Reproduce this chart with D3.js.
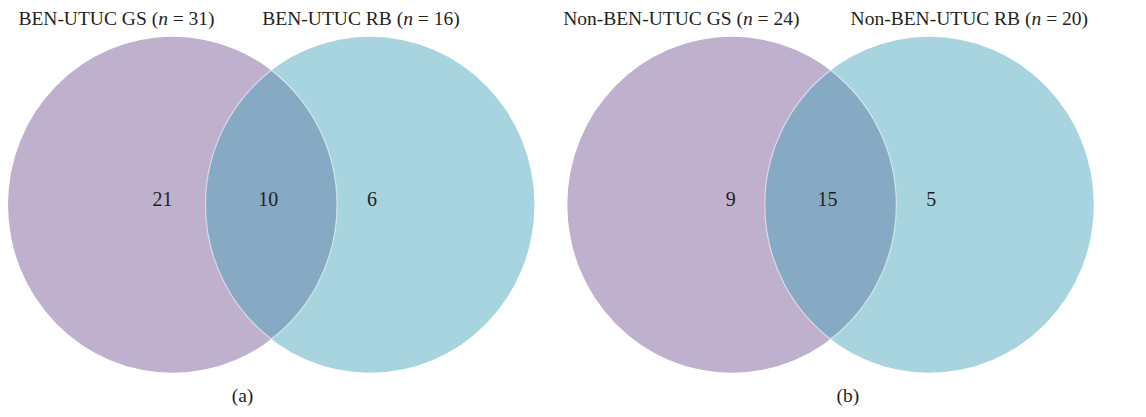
<!DOCTYPE html>
<html>
<head>
<meta charset="utf-8">
<script src="https://cdn.jsdelivr.net/npm/d3@7"></script>
<style>
  html, body { margin: 0; padding: 0; background: #fff; }
  svg { display: block; }
  text { font-family: "Liberation Serif", "DejaVu Serif", serif; fill: #231f20; }
</style>
</head>
<body>
<svg id="chart" width="1146" height="417"></svg>
<script>
// ---- data ----
const panelLabels = ["(a)", "(b)"];
const leftSetNames = ["BEN-UTUC GS", "Non-BEN-UTUC GS"];
const rightSetNames = ["BEN-UTUC RB", "Non-BEN-UTUC RB"];
const leftSetSizes = [31, 24];
const rightSetSizes = [16, 20];
const onlyLeftCounts = [21, 9];
const overlapCounts = [10, 15];
const onlyRightCounts = [6, 5];

// ---- layout ----
const W = 1146, H = 417;
const colors = { left: "#bfb0cd", right: "#a8d4df", both: "#86aac4", text: "#231f20" };
const svg = d3.select("#chart");

// panel placement
const panelX = d3.scaleOrdinal().domain(panelLabels).range([0, 559.3]);
// local x scale inside a panel (0 = left circle centre, 1 = right circle centre)
const localX = d3.scaleLinear().domain([0, 1]).range([172.5, 370]);
const cy = 204.7, rx = 164.5, ry = 168;
const titleCenters = [[116.5, 361], [122, 410]];
const onlyLeftOffset = [-10, -1];

panelLabels.forEach((lab, i) => {
  const g = svg.append("g").attr("transform", `translate(${panelX(lab)},0)`);
  const cxL = localX(0), cxR = localX(1);

  g.append("ellipse").attr("cx", cxL).attr("cy", cy).attr("rx", rx).attr("ry", ry)
    .attr("fill", colors.left);
  g.append("ellipse").attr("cx", cxR).attr("cy", cy).attr("rx", rx).attr("ry", ry)
    .attr("fill", colors.right);

  // lens (intersection)
  const xm = localX(0.5);
  const t = (xm - cxL) / rx;
  const dy = ry * Math.sqrt(1 - t * t);
  const yt = cy - dy, yb = cy + dy;
  g.append("path")
    .attr("d", `M${xm},${yt} A${rx},${ry} 0 0 0 ${xm},${yb} A${rx},${ry} 0 0 0 ${xm},${yt} Z`)
    .attr("fill", colors.both)
    .attr("stroke", "#ffffff").attr("stroke-opacity", 0.55).attr("stroke-width", 1.2);

  // counts
  const counts = [
    { v: onlyLeftCounts[i], x: cxL + onlyLeftOffset[i] },
    { v: overlapCounts[i], x: xm - 3 },
    { v: onlyRightCounts[i], x: cxR + 2 }
  ];
  g.selectAll("text.count").data(counts).join("text")
    .attr("class", "count")
    .attr("x", d => d.x).attr("y", 205.5)
    .attr("text-anchor", "middle")
    .attr("font-size", 20)
    .text(d => d.v);

  // titles
  const titles = [
    { name: leftSetNames[i], n: leftSetSizes[i], x: titleCenters[i][0] },
    { name: rightSetNames[i], n: rightSetSizes[i], x: titleCenters[i][1] }
  ];
  titles.forEach(tt => {
    const tx = g.append("text").attr("x", tt.x).attr("y", 25)
      .attr("text-anchor", "middle").attr("font-size", 19.5);
    tx.append("tspan").text(tt.name + " (");
    tx.append("tspan").attr("font-style", "italic").text("n");
    tx.append("tspan").text(" = " + tt.n + ")");
  });

  // panel label
  g.append("text").attr("x", i === 0 ? 242.5 : 288.7).attr("y", 402)
    .attr("text-anchor", "middle").attr("font-size", 19.5).text(lab);
});
</script>
</body>
</html>
